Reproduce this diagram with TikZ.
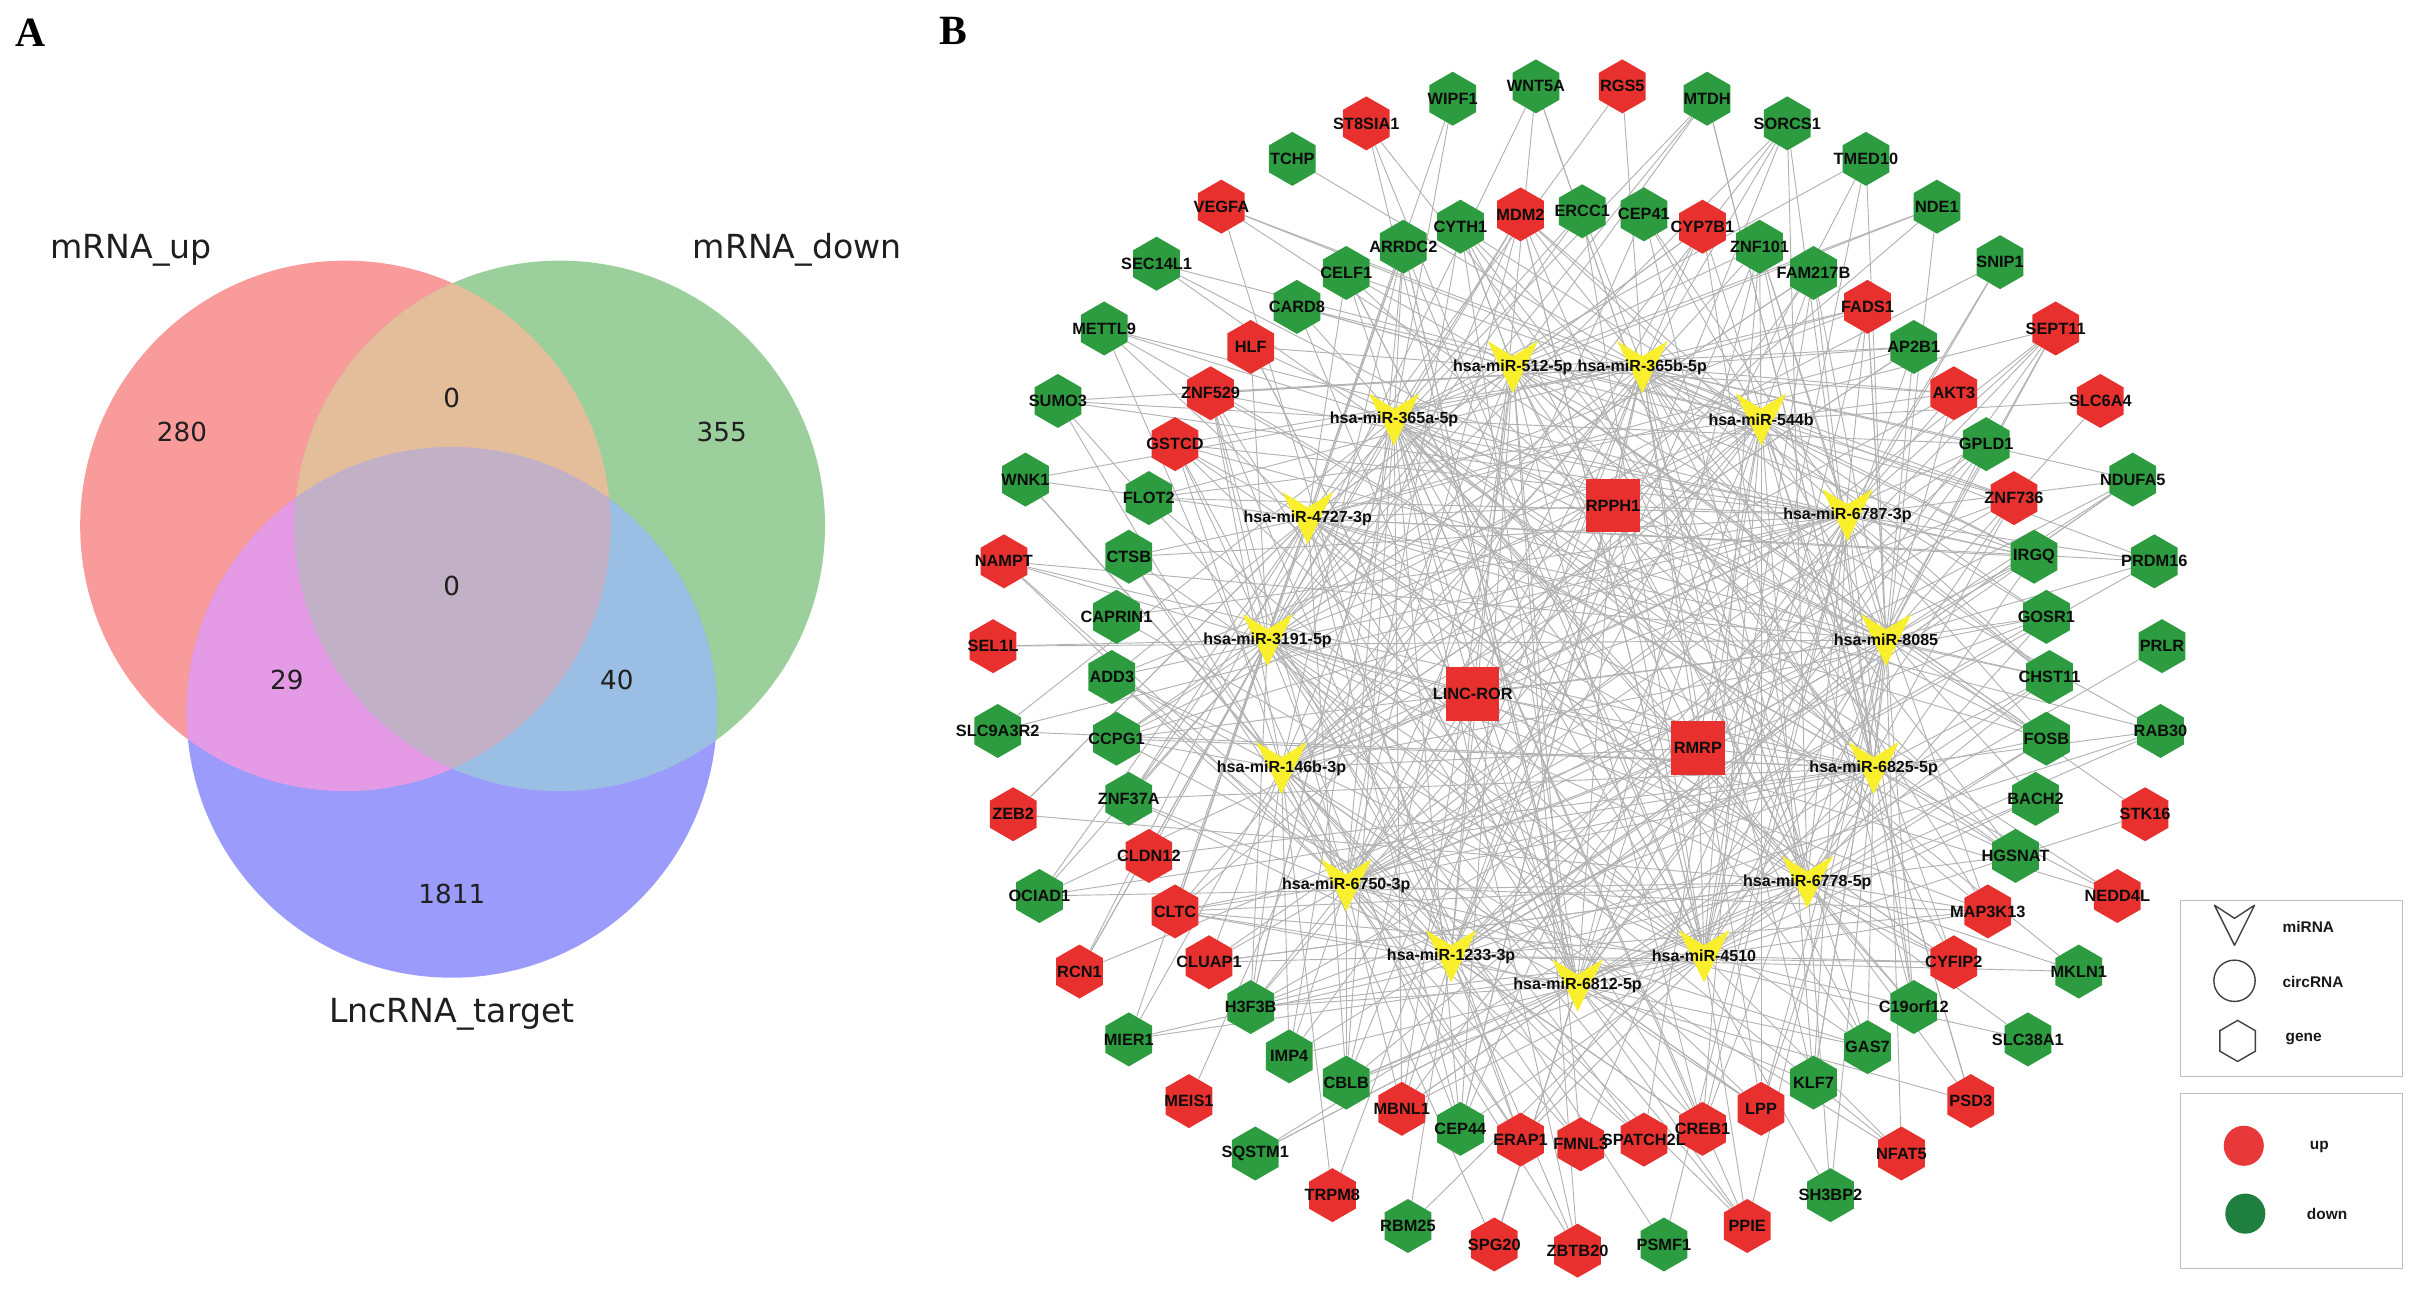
\documentclass[tikz,border=0pt]{standalone}
\usepackage{fontspec}
\setmainfont{Liberation Sans}
\newfontfamily\venfont{DejaVu Sans}
\newfontfamily\serifb{Liberation Serif}
\usetikzlibrary{shapes.geometric}
\pgfdeclarelayer{back}
\pgfdeclarelayer{edges}
\pgfsetlayers{back,edges,main}
\definecolor{gred}{HTML}{E8312F}
\definecolor{ggreen}{HTML}{2D9B3F}
\definecolor{vyel}{HTML}{F9EF2C}
\definecolor{vr}{RGB}{250,155,155}
\definecolor{vg}{RGB}{155,207,155}
\definecolor{vb}{RGB}{155,155,252}
\definecolor{vrg}{RGB}{228,190,155}
\definecolor{vrb}{RGB}{228,154,228}
\definecolor{vgb}{RGB}{155,190,228}
\definecolor{vrgb}{RGB}{194,176,198}
\definecolor{legred}{HTML}{E8383A}
\definecolor{leggreen}{HTML}{1F7F3F}
\tikzset{
  hexg/.style={regular polygon, regular polygon sides=6, shape border rotate=30, minimum size=35pt, inner sep=0pt, draw=none},
  glab/.style={font=\bfseries\fontsize{10.6}{12}\selectfont, inner sep=0pt, text=black!95},
  mlab/.style={font=\bfseries\fontsize{10.4}{12}\selectfont, inner sep=0pt, text=black!95},
  lnc/.style={rectangle, minimum size=34.6pt, inner sep=0pt, fill=gred},
  edge/.style={draw=black!30, line width=0.6pt},
  vfill/.style={fill=vyel},
  legbox/.style={draw=black!25, line width=1pt},
  legtxt/.style={font=\bfseries\fontsize{10}{12}\selectfont, inner sep=0pt, text=black!90},
  vlab/.style={font=\venfont\fontsize{21.5}{24}\selectfont, text=black!88, inner sep=0pt},
  vnum/.style={font=\venfont\fontsize{17}{20}\selectfont, text=black!88, inner sep=0pt},
  panel/.style={font=\serifb\bfseries\fontsize{27}{30}\selectfont, inner sep=0pt}
}
\newcommand\gn[5]{\node[hexg, fill=#4] (#1) at (#2,#3) {}; \node[glab] at (#1) {#5};}
\newcommand\mir[4]{\coordinate (#1) at (#2,#3); \fill[vfill,shift={(#1)}] (-16.5,-17) -- (0,-7) -- (16.5,-17) -- (0,17) -- cycle; \node[mlab] at (#1) {#4};}
\begin{document}
\begin{tikzpicture}[x=1pt,y=-1pt]
\useasboundingbox (0,0) rectangle (1568,839);
\begin{pgfonlayer}{back}
\fill[white] (0,0) rectangle (1568,839);
\end{pgfonlayer}

% ---------------- Panel A: Venn ----------------
\node[panel] at (20,21) {A};
\fill[vr] (224,341) circle[radius=172pt];
\fill[vg] (363,341) circle[radius=172pt];
\fill[vb] (293,462) circle[radius=172pt];
\begin{scope}\clip (224,341) circle[radius=172pt]; \fill[vrg] (363,341) circle[radius=172pt]; \end{scope}
\begin{scope}\clip (224,341) circle[radius=172pt]; \fill[vrb] (293,462) circle[radius=172pt]; \end{scope}
\begin{scope}\clip (363,341) circle[radius=172pt]; \fill[vgb] (293,462) circle[radius=172pt]; \end{scope}
\begin{scope}\clip (224,341) circle[radius=172pt]; \clip (363,341) circle[radius=172pt]; \fill[vrgb] (293,462) circle[radius=172pt]; \end{scope}
\node[vlab] (la) at (85,162) {mRNA\_up};
\node[vlab] (lb) at (517,162) {mRNA\_down};
\node[vlab] (lc) at (293,658) {LncRNA\_target};
\node[vnum] at (118,280) {280};
\node[vnum] at (293,258) {0};
\node[vnum] at (468,280) {355};
\node[vnum] at (293,380) {0};
\node[vnum] at (186,441) {29};
\node[vnum] at (400,441) {40};
\node[vnum] at (293,580) {1811};

% ---------------- Panel B: network ----------------
\node[panel] at (618,20) {B};

% lncRNAs
\node[lnc] (l1) at (1046,328) {}; \node[glab] at (l1) {RPPH1};
\node[lnc] (l2) at (955,450) {}; \node[glab] at (l2) {LINC-ROR};
\node[lnc] (l3) at (1101,485) {}; \node[glab] at (l3) {RMRP};

% genes, outer ring
\gn{g1}{886}{80}{gred}{ST8SIA1}
\gn{g2}{942}{64}{ggreen}{WIPF1}
\gn{g3}{996}{56}{ggreen}{WNT5A}
\gn{g4}{1052}{56}{gred}{RGS5}
\gn{g5}{1107}{64}{ggreen}{MTDH}
\gn{g6}{1159}{80}{ggreen}{SORCS1}
\gn{g7}{1210}{103}{ggreen}{TMED10}
\gn{g8}{1256}{134}{ggreen}{NDE1}
\gn{g9}{1297}{170}{ggreen}{SNIP1}
\gn{g10}{1333}{213}{gred}{SEPT11}
\gn{g11}{1362}{260}{gred}{SLC6A4}
\gn{g12}{1383}{311}{ggreen}{NDUFA5}
\gn{g13}{1397}{364}{ggreen}{PRDM16}
\gn{g14}{1402}{419}{ggreen}{PRLR}
\gn{g15}{1401}{474}{ggreen}{RAB30}
\gn{g16}{1391}{528}{gred}{STK16}
\gn{g17}{1373}{581}{gred}{NEDD4L}
\gn{g18}{1348}{630}{ggreen}{MKLN1}
\gn{g19}{1315}{674}{ggreen}{SLC38A1}
\gn{g20}{1278}{714}{gred}{PSD3}
\gn{g21}{1233}{748}{gred}{NFAT5}
\gn{g22}{1187}{775}{ggreen}{SH3BP2}
\gn{g23}{1133}{795}{gred}{PPIE}
\gn{g24}{1079}{807}{ggreen}{PSMF1}
\gn{g25}{1023}{811}{gred}{ZBTB20}
\gn{g26}{969}{807}{gred}{SPG20}
\gn{g27}{913}{795}{ggreen}{RBM25}
\gn{g28}{864}{775}{gred}{TRPM8}
\gn{g29}{814}{748}{ggreen}{SQSTM1}
\gn{g30}{771}{714}{gred}{MEIS1}
\gn{g31}{732}{674}{ggreen}{MIER1}
\gn{g32}{700}{630}{gred}{RCN1}
\gn{g33}{674}{581}{ggreen}{OCIAD1}
\gn{g34}{657}{528}{gred}{ZEB2}
\gn{g35}{647}{474}{ggreen}{SLC9A3R2}
\gn{g36}{644}{419}{gred}{SEL1L}
\gn{g37}{651}{364}{gred}{NAMPT}
\gn{g38}{665}{311}{ggreen}{WNK1}
\gn{g39}{686}{260}{ggreen}{SUMO3}
\gn{g40}{716}{213}{ggreen}{METTL9}
\gn{g41}{750}{171}{ggreen}{SEC14L1}
\gn{g42}{792}{134}{gred}{VEGFA}
\gn{g43}{838}{103}{ggreen}{TCHP}
% genes, inner ring
\gn{g44}{910}{160}{ggreen}{ARRDC2}
\gn{g45}{947}{147}{ggreen}{CYTH1}
\gn{g46}{986}{139}{gred}{MDM2}
\gn{g47}{1026}{137}{ggreen}{ERCC1}
\gn{g48}{1066}{139}{ggreen}{CEP41}
\gn{g49}{1104}{147}{gred}{CYP7B1}
\gn{g50}{1141}{160}{ggreen}{ZNF101}
\gn{g51}{1176}{177}{ggreen}{FAM217B}
\gn{g52}{1211}{199}{gred}{FADS1}
\gn{g53}{1241}{225}{ggreen}{AP2B1}
\gn{g54}{1267}{255}{gred}{AKT3}
\gn{g55}{1288}{288}{ggreen}{GPLD1}
\gn{g56}{1306}{323}{gred}{ZNF736}
\gn{g57}{1319}{361}{ggreen}{IRGQ}
\gn{g58}{1327}{400}{ggreen}{GOSR1}
\gn{g59}{1329}{439}{ggreen}{CHST11}
\gn{g60}{1327}{479}{ggreen}{FOSB}
\gn{g61}{1320}{518}{ggreen}{BACH2}
\gn{g62}{1307}{555}{ggreen}{HGSNAT}
\gn{g63}{1289}{591}{gred}{MAP3K13}
\gn{g64}{1267}{624}{gred}{CYFIP2}
\gn{g65}{1241}{653}{ggreen}{C19orf12}
\gn{g66}{1211}{679}{ggreen}{GAS7}
\gn{g67}{1176}{702}{ggreen}{KLF7}
\gn{g68}{1142}{719}{gred}{LPP}
\gn{g69}{1104}{732}{gred}{CREB1}
\gn{g70}{1025}{742}{gred}{FMNL3}
\gn{g71}{1066}{739}{gred}{SPATCH2L}
\gn{g72}{986}{739}{gred}{ERAP1}
\gn{g73}{947}{732}{ggreen}{CEP44}
\gn{g74}{909}{719}{gred}{MBNL1}
\gn{g75}{873}{702}{ggreen}{CBLB}
\gn{g76}{836}{685}{ggreen}{IMP4}
\gn{g77}{811}{653}{ggreen}{H3F3B}
\gn{g78}{784}{624}{gred}{CLUAP1}
\gn{g79}{762}{591}{gred}{CLTC}
\gn{g80}{745}{555}{gred}{CLDN12}
\gn{g81}{732}{518}{ggreen}{ZNF37A}
\gn{g82}{724}{479}{ggreen}{CCPG1}
\gn{g83}{721}{439}{ggreen}{ADD3}
\gn{g84}{724}{400}{ggreen}{CAPRIN1}
\gn{g85}{732}{361}{ggreen}{CTSB}
\gn{g86}{745}{323}{ggreen}{FLOT2}
\gn{g87}{762}{288}{gred}{GSTCD}
\gn{g88}{785}{255}{gred}{ZNF529}
\gn{g89}{811}{225}{gred}{HLF}
\gn{g90}{841}{199}{ggreen}{CARD8}
\gn{g91}{873}{177}{ggreen}{CELF1}

% miRNAs
\mir{m1}{981}{238}{hsa-miR-512-5p}
\mir{m2}{1065}{238}{hsa-miR-365b-5p}
\mir{m3}{1142}{272}{hsa-miR-544b}
\mir{m4}{1198}{334}{hsa-miR-6787-3p}
\mir{m5}{1223}{415}{hsa-miR-8085}
\mir{m6}{1215}{498}{hsa-miR-6825-5p}
\mir{m7}{1172}{572}{hsa-miR-6778-5p}
\mir{m8}{1105}{620}{hsa-miR-4510}
\mir{m9}{1023}{639}{hsa-miR-6812-5p}
\mir{m10}{941}{620}{hsa-miR-1233-3p}
\mir{m11}{873}{574}{hsa-miR-6750-3p}
\mir{m12}{831}{498}{hsa-miR-146b-3p}
\mir{m13}{822}{415}{hsa-miR-3191-5p}
\mir{m14}{848}{336}{hsa-miR-4727-3p}
\mir{m15}{904}{272}{hsa-miR-365a-5p}

% edges
\begin{pgfonlayer}{edges}
\pgfmathsetseed{20231}
\foreach \g in {1,...,91}{%
  \pgfmathtruncatemacro\fm{mod(\g*7,15)+1}
  \draw[edge] (g\g) -- (m\fm);
  \ifnum\g<44 \def\pp{0.17}\else\def\pp{0.42}\fi
  \foreach \m in {1,...,15}{%
    \pgfmathtruncatemacro\ok{rnd<\pp}
    \ifnum\ok=1 \draw[edge] (g\g) -- (m\m);\fi
  }
}
\foreach \l in {1,2,3}{\foreach \m in {1,...,15}{\draw[edge] (l\l) -- (m\m);}}
\end{pgfonlayer}

% legend
\draw[legbox] (1414,584) rectangle (1558,698);
\draw[legbox] (1414,709) rectangle (1558,822.5);
\coordinate (lv) at (1449,600);
\draw[black!75, line width=0.9pt, line join=round, shift={(lv)}] (-13,-13) -- (0,-4.5) -- (13,-13) -- (0,13) -- cycle;
\node[circle, draw=black!75, line width=0.9pt, minimum size=26.8pt, inner sep=0pt] (lc) at (1449,636) {};
\node[hexg, draw=black!75, line width=0.9pt, minimum size=26.6pt] (lh) at (1451,675) {};
\node[legtxt, anchor=west] at (1480,601) {miRNA};
\node[legtxt, anchor=west] at (1480,637) {circRNA};
\node[legtxt, anchor=west] at (1482,674) {gene};
\node[circle, fill=legred, minimum size=26pt, inner sep=0pt] (lu) at (1455,743) {};
\node[circle, fill=leggreen, minimum size=26pt, inner sep=0pt] (ld) at (1456,787) {};
\node[legtxt] at (1504,744) {up};
\node[legtxt] at (1509,787) {down};
\end{tikzpicture}
\end{document}
